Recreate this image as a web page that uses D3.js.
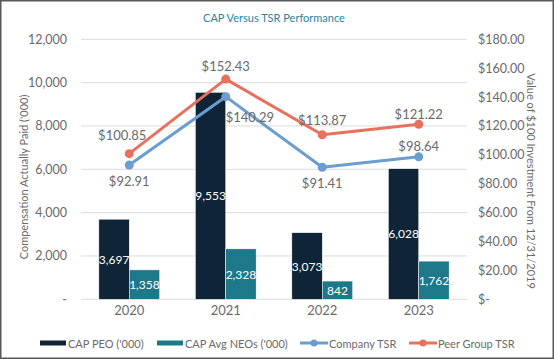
<!DOCTYPE html>
<html><head><meta charset="utf-8">
<script src="https://cdn.jsdelivr.net/npm/d3@7"></script>
<style>
html,body{margin:0;padding:0;background:#fff;}
svg{display:block;font-family:Lato,"Open Sans",sans-serif;font-weight:400;}
</style></head>
<body>
<svg id="c" width="554" height="359"></svg>
<script>
const years = ["2020","2021","2022","2023"];
const capPEO = [3697, 9553, 3073, 6028];
const capNEO = [1358, 2328, 842, 1762];
const companyTSR = [92.91, 140.29, 91.41, 98.64];
const peerTSR = [100.85, 152.43, 113.87, 121.22];
const leftTicks = [0, 2000, 4000, 6000, 8000, 10000, 12000];
const rightTicks = [0, 20, 40, 60, 80, 100, 120, 140, 160, 180];
const companyLabelPlacement = ["below","right","below","above"];
// label nudges (layout only)
const peerLabelNudge = [[-7,-19],[0,-13],[0,-15],[0,-10]];

const C = {peo:"#0f2537", neo:"#1d788a", comp:"#6a9dd0", peer:"#e8705c", text:"#6a6a6a", grid:"#dcdcdc", title:"#2a849c"};
const svg = d3.select("#c");
const M = {l:81, r:467, t:39.3, b:299.3};

svg.append("rect").attr("x",0.75).attr("y",0.75).attr("width",552.5).attr("height",357.5)
  .attr("fill","#fff").attr("stroke","#595959").attr("stroke-width",1.5);

const x = d3.scaleBand().domain(years).range([M.l, M.r]).paddingInner(0.37).paddingOuter(0.185);
const xc = d => x(d) + x.bandwidth()/2;
const x1 = d3.scaleBand().domain(["peo","neo"]).range([0, x.bandwidth()]);
const yL = d3.scaleLinear().domain([0, 12000]).range([M.b, M.t]);
const yR = d3.scaleLinear().domain([0, 180]).range([M.b, M.t]);

svg.append("g").selectAll("line").data(leftTicks).join("line")
  .attr("x1", M.l).attr("x2", M.r).attr("y1", d=>yL(d)).attr("y2", d=>yL(d))
  .attr("stroke", C.grid).attr("stroke-width", 1);

function styleAxis(g, size){
  g.attr("font-family", null).attr("font-size", null);
  g.select(".domain").remove();
  g.selectAll("text").attr("fill", C.text).attr("font-size", size);
}
const axL = d3.axisLeft(yL).tickValues(leftTicks).tickSize(0).tickPadding(0)
  .tickFormat(d => d === 0 ? "-" : d3.format(",")(d));
styleAxis(svg.append("g").attr("transform", `translate(${67},0)`).call(axL), 12.5);

const axR = d3.axisRight(yR).tickValues(rightTicks).tickSize(0).tickPadding(0)
  .tickFormat(d => d === 0 ? "$-" : "$" + d.toFixed(2));
styleAxis(svg.append("g").attr("transform", `translate(${478},0)`).call(axR), 12.5);

const axB = d3.axisBottom(x).tickSize(0).tickPadding(0);
styleAxis(svg.append("g").attr("transform", `translate(0,${306})`).call(axB), 13);

const groups = svg.append("g").selectAll("g").data(years).join("g")
  .attr("transform", d => `translate(${x(d)},0)`);
const barData = (d,i) => [{k:"peo", v:capPEO[i]}, {k:"neo", v:capNEO[i]}];
groups.each(function(d,i){
  const g = d3.select(this);
  const bd = barData(d,i);
  g.selectAll("rect").data(bd).join("rect")
    .attr("x", b=>x1(b.k)).attr("width", x1.bandwidth())
    .attr("y", b=>yL(b.v)).attr("height", b=>yL(0)-yL(b.v))
    .attr("fill", b=>C[b.k]).attr("stroke","#ffffff").attr("stroke-width",0.5);
  g.selectAll("text").data(bd).join("text")
    .attr("x", b=>x1(b.k)+x1.bandwidth()/2)
    .attr("y", b=>(yL(b.v)+yL(0))/2)
    .attr("text-anchor","middle").attr("dominant-baseline","central")
    .attr("fill","#fff").attr("font-size",12)
    .text(b=>d3.format(",")(b.v));
});

function drawLine(vals, color){
  const pts = years.map((y,i)=>[xc(y), yR(vals[i])]);
  svg.append("path").attr("d", d3.line()(pts)).attr("fill","none")
    .attr("stroke", color).attr("stroke-width", 3).attr("stroke-linejoin","round");
  svg.append("g").selectAll("circle").data(pts).join("circle")
    .attr("cx", p=>p[0]).attr("cy", p=>p[1]).attr("r", 4.5).attr("fill", color);
}
drawLine(companyTSR, C.comp);
drawLine(peerTSR, C.peer);

const fmt$ = v => "$" + v.toFixed(2);
svg.append("g").selectAll("text").data(years).join("text")
  .attr("x", (d,i)=>xc(d) + peerLabelNudge[i][0]).attr("y", (d,i)=>yR(peerTSR[i]) + peerLabelNudge[i][1])
  .attr("text-anchor","middle").attr("dominant-baseline","central")
  .attr("fill", C.text).attr("font-size", 13)
  .text((d,i)=>fmt$(peerTSR[i]));
svg.append("g").selectAll("text").data(years).join("text")
  .attr("x", (d,i)=> xc(d))
  .attr("y", (d,i)=> {
    const p = companyLabelPlacement[i];
    const y0 = yR(companyTSR[i]);
    return p==="below" ? y0 + 15.5 : p==="above" ? y0 - 11 : y0 + 20.5;
  })
  .attr("text-anchor",(d,i)=> companyLabelPlacement[i]==="right" ? "start" : "middle")
  .attr("dominant-baseline","central")
  .attr("fill", C.text).attr("font-size", 13)
  .text((d,i)=>fmt$(companyTSR[i]));

svg.append("text").attr("x", 274).attr("y", 17).attr("text-anchor","middle")
  .attr("dominant-baseline","central").attr("fill", C.title).attr("font-size", 11)
  .text("CAP Versus TSR Performance");

svg.append("text").attr("transform", `translate(23,${177}) rotate(-90)`)
  .attr("text-anchor","middle").attr("dominant-baseline","central")
  .attr("fill", C.text).attr("font-size", 11).text("Compensation Actually Paid ('000)");
svg.append("text").attr("transform", `translate(531,${181}) rotate(90)`)
  .attr("text-anchor","middle").attr("dominant-baseline","central")
  .attr("fill", C.text).attr("font-size", 11).text("Value of $100 Investment From 12/31/2019");

const legendItems = [
  {label:"CAP PEO ('000)", color:C.peo, type:"bar", x:40},
  {label:"CAP Avg NEOs ('000)", color:C.neo, type:"bar", x:157},
  {label:"Company TSR", color:C.comp, type:"line", x:300},
  {label:"Peer Group TSR", color:C.peer, type:"line", x:409}
];
const lg = svg.append("g").selectAll("g").data(legendItems).join("g")
  .attr("transform", d=>`translate(${d.x},343)`);
lg.filter(d=>d.type==="bar").append("rect").attr("x",0).attr("y",-2.5).attr("width",26).attr("height",5)
  .attr("fill", d=>d.color);
lg.filter(d=>d.type==="line").append("line").attr("x1",0).attr("x2",28).attr("y1",0).attr("y2",0)
  .attr("stroke", d=>d.color).attr("stroke-width",3);
lg.filter(d=>d.type==="line").append("circle").attr("cx",14).attr("cy",0).attr("r",3.5)
  .attr("fill", d=>d.color);
lg.append("text").attr("x", d=>d.type==="bar"?28:29).attr("y",0).attr("dominant-baseline","central")
  .attr("fill", C.text).attr("font-size", 11).text(d=>d.label);
</script>
</body></html>
